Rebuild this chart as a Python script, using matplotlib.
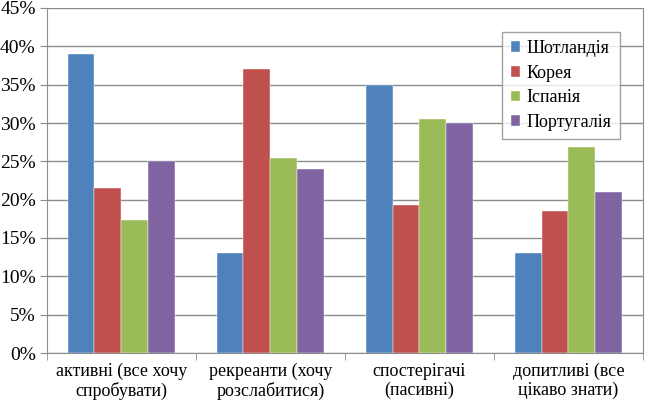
import matplotlib.pyplot as plt
import numpy as np
from matplotlib.ticker import FixedLocator

categories = ["активні (все хочу\nспробувати)", "рекреанти (хочу\nрозслабитися)",
              "спостерігачі\n(пасивні)", "допитливі (все\nцікаво знати)"]
series = ["Шотландія", "Корея", "Іспанія", "Португалія"]
scotland = [39.0, 13.0, 35.0, 13.0]
korea = [21.5, 37.0, 19.3, 18.5]
spain = [17.3, 25.4, 30.5, 26.9]
portugal = [25.0, 24.0, 30.0, 21.0]
colors = ["#4F81BD", "#C0504D", "#9BBB59", "#8064A2"]

FONT = "Liberation Serif"

fig = plt.figure(figsize=(6.5, 4), dpi=100)
ax = fig.add_axes([0.072, 0.1175, 0.917, 0.8625])

x = np.arange(len(categories))
w = 0.18
for i, (name, vals) in enumerate(zip(series, [scotland, korea, spain, portugal])):
    ax.bar(x + (i - 1.5) * w, vals, width=w, color=colors[i], label=name,
           zorder=3, edgecolor="white", linewidth=0.3)

ax.set_xlim(-0.5, 3.5)
ax.set_ylim(0, 45)
ax.set_yticks(np.arange(0, 46, 5))
ax.set_yticklabels([f"{v}%" for v in range(0, 46, 5)], family=FONT, fontsize=14)
ax.grid(axis="y", color="#8C8C8C", linewidth=1, zorder=0)
ax.set_xticks(x)
ax.set_xticklabels(categories, family=FONT, fontsize=13, linespacing=1.15)
ax.xaxis.set_minor_locator(FixedLocator([-0.5, 0.5, 1.5, 2.5, 3.5]))
ax.tick_params(axis="x", which="major", length=0, pad=7)
ax.tick_params(axis="x", which="minor", length=5, color="#8C8C8C", direction="out")
ax.tick_params(axis="y", length=5, color="#8C8C8C", direction="out", pad=3)

for s in ["left", "bottom", "right"]:
    ax.spines[s].set_color("#8C8C8C")
ax.spines["top"].set_visible(False)

leg = ax.legend(loc="upper right", bbox_to_anchor=(0.9765, 0.9565),
                prop={"family": FONT, "size": 13},
                frameon=True, fancybox=False, edgecolor="#8C8C8C",
                handlelength=0.55, handleheight=0.55, handletextpad=0.35,
                labelspacing=0.42, borderpad=0.45)
leg.get_frame().set_linewidth(1)

fig.savefig("out.png", dpi=100)
